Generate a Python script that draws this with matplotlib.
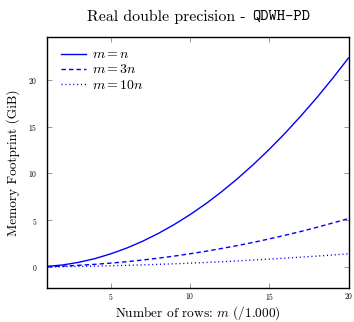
import matplotlib
matplotlib.use("Agg")
import matplotlib.pyplot as plt

rows = [1, 2, 3, 4, 5, 6, 7, 8, 9, 10, 11, 12, 13, 14, 15, 16, 17, 18, 19, 20]
mem_m_eq_n = [0.06, 0.22, 0.50, 0.89, 1.40, 2.01, 2.74, 3.58, 4.53, 5.59,
              6.76, 8.05, 9.45, 10.96, 12.58, 14.31, 16.16, 18.11, 20.18, 22.36]
mem_m_eq_3n = [0.03, 0.09, 0.18, 0.28, 0.41, 0.56, 0.74, 0.94, 1.16, 1.41,
               1.68, 1.98, 2.29, 2.63, 3.00, 3.39, 3.80, 4.24, 4.70, 5.18]
mem_m_eq_10n = [0.01, 0.03, 0.06, 0.09, 0.13, 0.17, 0.22, 0.28, 0.34, 0.41,
                0.48, 0.56, 0.65, 0.74, 0.84, 0.94, 1.05, 1.16, 1.28, 1.41]
labels = [r"$m = n$", r"$m = 3n$", r"$m = 10n$"]
xticks = [5, 10, 15, 20]
yticks = [0, 5, 10, 15, 20]

plt.rcParams["font.family"] = ["cmr10", "DejaVu Serif"]
plt.rcParams["mathtext.fontset"] = "cm"
plt.rcParams["axes.formatter.use_mathtext"] = True

fig = plt.figure(figsize=(3.54, 3.22), dpi=100)
ax = fig.add_axes([0.1333, 0.1056, 0.8512, 0.7795])

blue = "#0000ff"
ax.plot(rows, mem_m_eq_n, color=blue, lw=1.0, ls="-", label=labels[0])
ax.plot(rows, mem_m_eq_3n, color=blue, lw=1.0, ls=(0, (3.2, 2.2)), label=labels[1])
ax.plot(rows, mem_m_eq_10n, color=blue, lw=1.0, ls=(0, (0.8, 2.0)), label=labels[2])

ax.set_xlim(1, 20)
ax.set_ylim(-2.25, 24.6)
ax.set_xticks(xticks)
ax.set_yticks(yticks)
ax.tick_params(direction="in", length=3.5, width=0.6, color="#888888",
               labelsize=5.5, top=True, right=True)
ax.tick_params(axis="x", pad=2)
ax.tick_params(axis="y", pad=7)
for s in ax.spines.values():
    s.set_linewidth(1.0)

fig.text(0.695, 0.947, "Real double precision -", ha="right", va="center",
         fontsize=11.4, family=["cmr10", "DejaVu Serif"])
fig.text(0.712, 0.947, "QDWH-PD", ha="left", va="center",
         fontsize=11.4, family=["cmtt10", "DejaVu Sans Mono"])

ax.set_xlabel(r"Number of rows: $m$ (/1.000)", fontsize=9.6, labelpad=1.5)
ax.set_ylabel("Memory Footprint (GiB)", fontsize=9.6, labelpad=6)

leg = ax.legend(loc="upper left", frameon=False, fontsize=10, handlelength=1.8,
                handletextpad=0.4, labelspacing=0.15,
                bbox_to_anchor=(0.012, 0.995), borderaxespad=0.35)

fig.savefig("out.png", dpi=100)
